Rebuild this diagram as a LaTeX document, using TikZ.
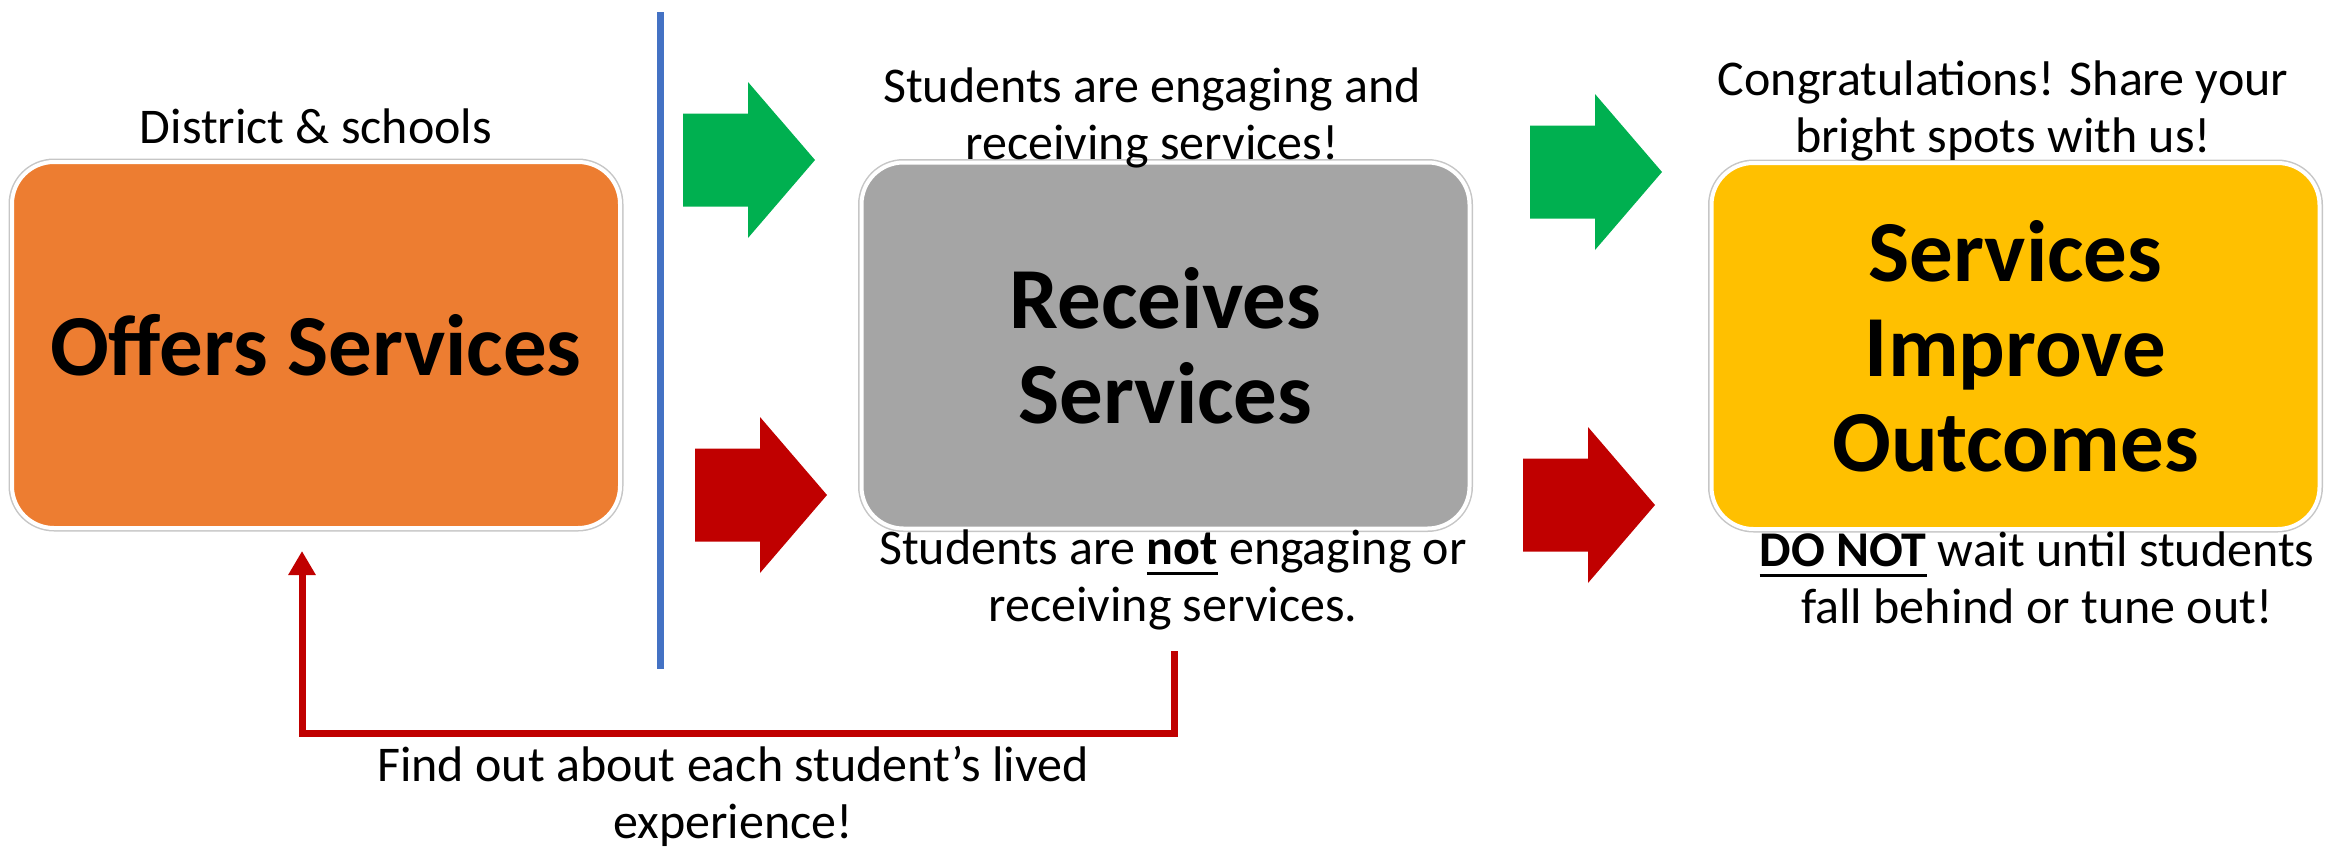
\documentclass[tikz,border=0pt]{standalone}
\usepackage{fontspec}
\setmainfont{Carlito}
\usetikzlibrary{arrows.meta}
\definecolor{orangeC}{HTML}{ED7D31}
\definecolor{grayC}{HTML}{A5A5A5}
\definecolor{yellowC}{HTML}{FFC000}
\definecolor{greenC}{HTML}{00B050}
\definecolor{redC}{HTML}{C00000}
\definecolor{blueC}{HTML}{4472C4}
\newcommand\myul[1]{\setbox0\hbox{#1}\rlap{\rule[-10pt]{\wd0}{3pt}}\box0\relax}
\begin{document}
\begin{tikzpicture}[x=1pt,y=-1pt,
  box/.style={rounded corners=42pt, minimum width=608pt, minimum height=366pt,
    inner sep=0pt, draw=white, line width=4pt,
    preaction={draw=gray!45, line width=7pt},
    font=\fontsize{87}{95}\selectfont\bfseries, align=center},
  lbl/.style={font=\fontsize{50}{57}\selectfont, align=center, inner sep=0pt},
  blockarrow/.pic={\fill[#1] (0,-46.5) -- (65,-46.5) -- (65,-78) -- (132,0)
    -- (65,78) -- (65,46.5) -- (0,46.5) -- cycle;},
  divider/.style={blueC, line width=7pt},
  feedback/.style={redC, line width=7pt, line join=miter,
    -{Triangle[length=24pt,width=26pt]}}
  ]
\useasboundingbox (0,0) rectangle (2343,849);

% boxes
\node[box, fill=orangeC] (offers) at (316,345) {Offers Services};
\node[box, fill=grayC] (receives) at (1165.5,345.5) {Receives\\Services};
\node[box, fill=yellowC] (improve) at (2015.5,346) {Services\\Improve\\Outcomes};

% labels
\node[lbl, anchor=base] (district) at (316,143) {District \& schools};
\node[lbl] (engage) at (1152,118) {Students are engaging and\\receiving services!};
\node[lbl] (notengage) at (1173,580) {Students are \myul{\textbf{not}} engaging or\\receiving services.};
\node[lbl] (congrats) at (2003,111) {Congratulations! Share your\\bright spots with us!};
\node[lbl] (donot) at (2037,578) {\myul{\textbf{DO NOT}} wait until students\\fall behind or tune out!};
\node[lbl] (findout) at (733,796) {Find out about each student’s lived\\experience!};

% divider
\coordinate (divtop) at (660,12);
\coordinate (divbot) at (660,669);
\draw[divider] (divtop) -- (divbot);

% block arrows
\pic at (683,160) {blockarrow=greenC};
\pic at (695,495) {blockarrow=redC};
\pic at (1530,172) {blockarrow=greenC};
\pic at (1523,505) {blockarrow=redC};

% feedback loop
\coordinate (loopstart) at (1174,651);
\coordinate (loopbottom) at (1174,733);
\coordinate (looptip) at (302,551);
\draw[feedback] (loopstart) -- (loopbottom) -| (looptip);
\end{tikzpicture}
\end{document}
